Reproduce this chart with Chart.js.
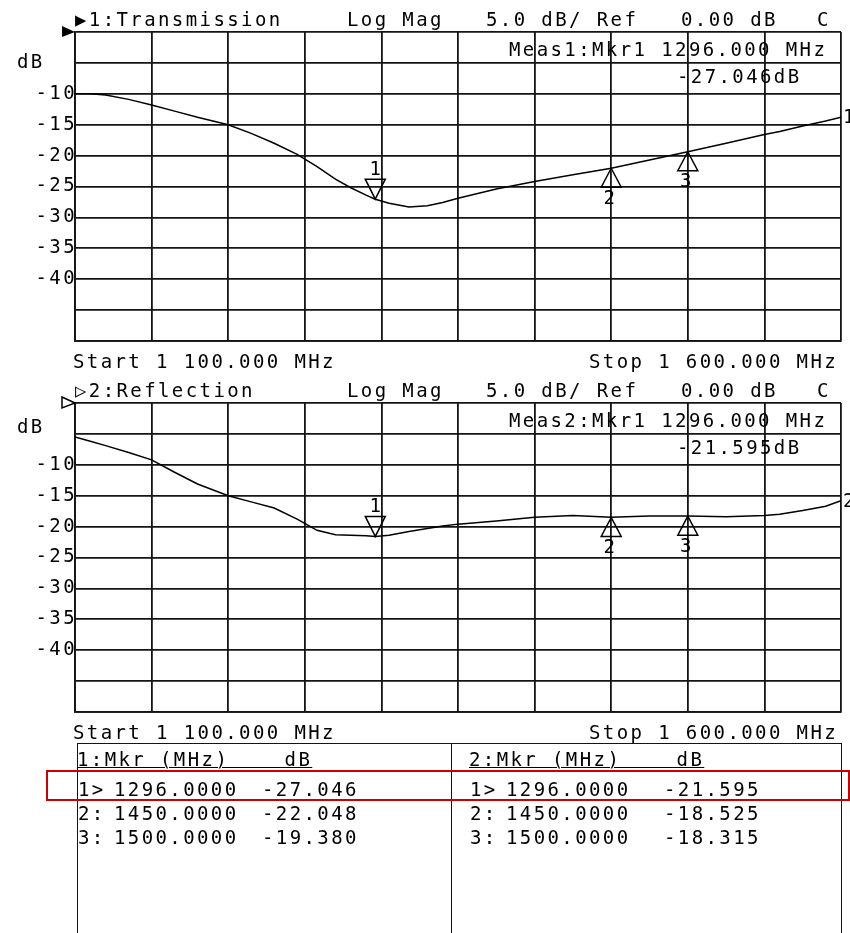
<!DOCTYPE html>
<html>
<head>
<meta charset="utf-8">
<script src="https://cdn.jsdelivr.net/npm/chart.js@4.4.1/dist/chart.umd.min.js"></script>
<style>
  html, body { margin: 0; padding: 0; background: #fff; }
  #wrap { position: relative; width: 850px; height: 933px; overflow: hidden; background: #fff; }
  canvas { position: absolute; left: 0; }
  .t {
    position: absolute; font: 19px 'DejaVu Sans Mono', monospace; letter-spacing: 2.4px;
    line-height: 19px; white-space: pre; color: #000;
  }
  .u { text-decoration: underline; text-underline-offset: 1px; text-decoration-thickness: 1.3px; }
</style>
</head>
<body>
<div id="wrap">
  <canvas id="trans" width="850" height="371" style="top:0"></canvas>
  <canvas id="refl" width="850" height="371" style="top:371px"></canvas>
</div>
<script>
// sweep, MHz
const START_MHZ = 1100;
const STOP_MHZ = 1600;
const FREQ_MHZ = [1100, 1110, 1120, 1135, 1150, 1165, 1180, 1200, 1215, 1230, 1245, 1258, 1270,
  1280, 1290, 1296, 1305, 1318, 1330, 1340, 1350, 1375, 1400, 1425, 1450, 1475, 1500, 1525,
  1550, 1560, 1575, 1590, 1600];

// trace 1: transmission, dB
const TRANS_DB = [-10.0, -10.0, -10.2, -10.9, -11.8, -12.8, -13.8, -15.0, -16.4, -18.0, -19.8,
  -21.8, -23.8, -25.2, -26.4, -27.05, -27.7, -28.3, -28.1, -27.6, -26.9, -25.4, -24.2, -23.1,
  -22.05, -20.7, -19.38, -18.0, -16.6, -16.1, -15.2, -14.4, -13.8];

// trace 2: reflection, dB
const REFL_DB = [-5.5, -6.2, -6.9, -8.0, -9.2, -11.2, -13.1, -15.0, -16.0, -17.0, -18.8, -20.6,
  -21.3, -21.4, -21.5, -21.6, -21.4, -20.8, -20.3, -19.9, -19.6, -19.1, -18.5, -18.2, -18.5,
  -18.3, -18.3, -18.4, -18.2, -18.0, -17.4, -16.7, -15.8];

// markers
const MARKER_IDS = ['1>', '2:', '3:'];
const MARKER_MHZ = [1296, 1450, 1500];
const TRANS_MKR_DB = [-27.046, -22.048, -19.380];
const REFL_MKR_DB = [-21.595, -18.525, -18.315];

// y scale: ref 0 dB, 5 dB/div
const Y_LABELS = [-10, -15, -20, -25, -30, -35, -40];

const INK = '#141414';
const FONT = "'DejaVu Sans Mono'";

const vnaMarkers = {
  id: 'vnaMarkers',
  beforeDraw(chart) {
    chart.ctx.letterSpacing = '2.4px';
  },
  afterDatasetsDraw(chart, args, opts) {
    const { ctx, chartArea: area, scales: { x, y } } = chart;
    ctx.save();
    ctx.letterSpacing = '0px';
    ctx.strokeStyle = '#000';
    ctx.fillStyle = '#000';
    ctx.lineWidth = 1.5;
    ctx.font = `19px ${FONT}`;
    ctx.textAlign = 'center';

    opts.values.forEach((v, i) => {
      const px = x.getPixelForValue(MARKER_MHZ[i]);
      const py = y.getPixelForValue(v);
      ctx.beginPath();
      if (i === 0) {
        // active marker: open triangle pointing down, number above
        ctx.moveTo(px, py);
        ctx.lineTo(px - 10, py - 20);
        ctx.lineTo(px + 10, py - 20);
        ctx.closePath();
        ctx.stroke();
        ctx.textBaseline = 'bottom';
        ctx.fillText(String(i + 1), px, py - 20);
      } else {
        ctx.moveTo(px, py);
        ctx.lineTo(px - 10, py + 19);
        ctx.lineTo(px + 10, py + 19);
        ctx.closePath();
        ctx.stroke();
        ctx.textBaseline = 'top';
        ctx.fillText(String(i + 1), px - 2, py + 21);
      }
    });

    // trace number at the right end
    const last = opts.trace[opts.trace.length - 1];
    ctx.textAlign = 'left';
    ctx.textBaseline = 'middle';
    ctx.fillText(String(opts.channel), area.right + 2, y.getPixelForValue(last) + 1);

    // reference level pointer
    ctx.beginPath();
    ctx.moveTo(area.left - 13, area.top - 6);
    ctx.lineTo(area.left, area.top);
    ctx.lineTo(area.left - 13, area.top + 5);
    ctx.closePath();
    if (opts.filled) ctx.fill(); else ctx.stroke();
    ctx.restore();
  },
  afterDraw(chart) {
    chart.ctx.letterSpacing = '0px';
  }
};

function makeChart(canvas, trace, markerValues, channel, filled) {
  const grid = { color: INK, lineWidth: 1.8, drawTicks: false };
  const border = { color: INK, width: 1.8 };
  return new Chart(canvas, {
    type: 'line',
    data: {
      datasets: [{
        data: FREQ_MHZ.map((f, i) => ({ x: f, y: trace[i] })),
        borderColor: '#000',
        borderWidth: 1.5,
        pointRadius: 0,
        tension: 0,
      }],
    },
    options: {
      responsive: false,
      animation: false,
      devicePixelRatio: 1,
      events: [],
      layout: { padding: { top: 32, bottom: 30, left: 0, right: 9 } },
      plugins: {
        legend: { display: false },
        tooltip: { enabled: false },
        vnaMarkers: { values: markerValues, trace, channel, filled },
      },
      scales: {
        x: {
          type: 'linear', min: START_MHZ, max: STOP_MHZ,
          ticks: { stepSize: 50, display: false },
          grid, border,
          afterFit: (s) => { s.height = 0; },
        },
        y: {
          min: -50, max: 0,
          ticks: {
            stepSize: 5, padding: -2, color: '#000',
            font: { family: 'DejaVu Sans Mono', size: 19 },
            callback: (v) => (Y_LABELS.includes(v) ? String(v) : ''),
          },
          grid, border,
          afterFit: (s) => { s.width = 75; },
        },
      },
    },
    plugins: [vnaMarkers],
  });
}

makeChart(document.getElementById('trans'), TRANS_DB, TRANS_MKR_DB, 1, true);
makeChart(document.getElementById('refl'), REFL_DB, REFL_MKR_DB, 2, false);

// ---- text overlay ----
const wrap = document.getElementById('wrap');
function addText(str, left, top, cls) {
  const d = document.createElement('div');
  d.className = 't' + (cls ? ' ' + cls : '');
  d.style.left = left + 'px';
  d.style.top = top + 'px';
  d.textContent = str;
  wrap.appendChild(d);
  return d;
}
function addBox(left, top, width, height, css) {
  const d = document.createElement('div');
  d.style.cssText = `position:absolute;box-sizing:border-box;left:${left}px;top:${top}px;width:${width}px;height:${height}px;${css}`;
  wrap.appendChild(d);
}

const mhz = (v) => v.toFixed(3);
const header = (off, label, mkrDb, dbTop) => {
  addText(label, 75, 10 + off);
  addText('Log Mag', 347, 10 + off);
  addText('5.0 dB/ Ref', 486, 10 + off);
  addText('0.00 dB', 681, 10 + off);
  addText('C', 817, 10 + off);
  addText(`Meas${label[1]}:Mkr1 ${mhz(MARKER_MHZ[0])} MHz`, 509, 40 + off);
  addText(`${mkrDb.toFixed(3)}dB`, 677, 67 + off);
  addText(`Start 1 ${mhz(START_MHZ - 1000)} MHz`, 73, 352 + off);
  addText(`Stop 1 ${mhz(STOP_MHZ - 1000)} MHz`, 589, 352 + off);
  addText('dB', 17, dbTop);
};
header(0, '\u25B61:Transmission', TRANS_MKR_DB[0], 52);
header(371, '\u25B72:Reflection', REFL_MKR_DB[0], 417);

// marker table
addBox(77, 743, 765, 220, `border:1.8px solid ${INK};border-bottom:none;`);
addBox(451, 743, 2, 220, `border-left:1.8px solid ${INK};`);
addText('1:Mkr (MHz)    dB', 77, 750, 'u');
addText('2:Mkr (MHz)    dB', 469, 750, 'u');
MARKER_IDS.forEach((id, i) => {
  const top = 780 + i * 24;
  const f = MARKER_MHZ[i].toFixed(4);
  addText(id, 78, top);
  addText(f, 114, top);
  addText(TRANS_MKR_DB[i].toFixed(3), 262, top);
  addText(id, 470, top);
  addText(f, 506, top);
  addText(REFL_MKR_DB[i].toFixed(3), 664, top);
});
addBox(46, 770, 804, 31, 'border:2px solid #cc0000;');
</script>
</body>
</html>
